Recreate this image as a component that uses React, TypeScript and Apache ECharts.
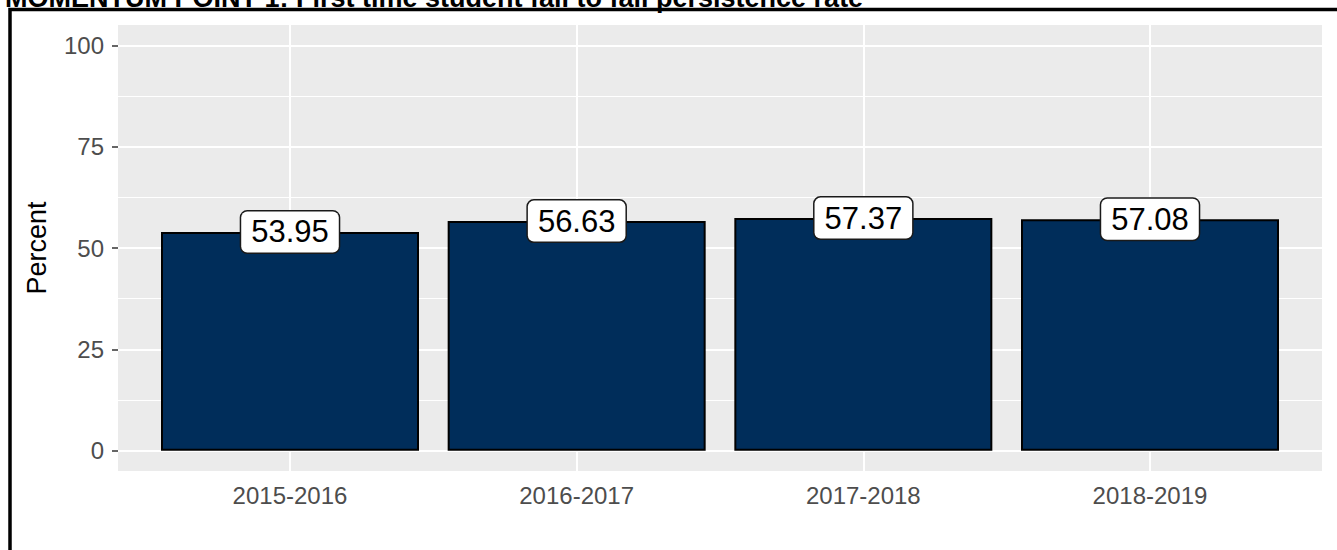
import React, { useEffect, useRef } from "react";
import * as echarts from "echarts";

const categories = ["2015-2016", "2016-2017", "2017-2018", "2018-2019"];
const values = [53.95, 56.63, 57.37, 57.08];
const yTicks = [0, 25, 50, 75, 100];
const yMinor = [12.5, 37.5, 62.5, 87.5];
const titleText = "MOMENTUM POINT 1: First time student fall to fall persistence rate";

const FONT = "'Liberation Sans', Arial, sans-serif";

export default function App() {
  const ref = useRef<HTMLDivElement>(null);
  useEffect(() => {
    if (!ref.current) return;
    const chart = echarts.init(ref.current, null, { renderer: "svg" });
    const xPos = categories.map((_, i) => i + 1);
    const barData = values.map((v, i) => [xPos[i], v]);
    const markData: any[] = [];
    yMinor.forEach((v) => markData.push({ yAxis: v, lineStyle: { width: 1 } }));
    yTicks.forEach((v) => markData.push({ yAxis: v, lineStyle: { width: 2 } }));
    xPos.forEach((v) => markData.push({ xAxis: v, lineStyle: { width: 2 } }));
    chart.setOption({
      animation: false,
      textStyle: { fontFamily: FONT },
      grid: {
        left: 118,
        right: 15,
        top: 25,
        bottom: 79,
        show: true,
        backgroundColor: "#EBEBEB",
        borderWidth: 0,
      },
      xAxis: {
        type: "value",
        min: 0.4,
        max: 4.6,
        splitLine: { show: false },
        axisLine: { show: false },
        axisTick: { show: true, length: 7, customValues: xPos, lineStyle: { color: "#333333", width: 1.5 } },
        axisLabel: {
          customValues: xPos,
          formatter: (v: number) => categories[Math.round(v) - 1] ?? "",
          color: "#4D4D4D",
          fontSize: 24,
          margin: 12,
          fontFamily: FONT,
        },
      },
      yAxis: {
        type: "value",
        min: -5,
        max: 105,
        name: "Percent",
        nameLocation: "middle",
        nameGap: 68,
        nameRotate: 90,
        nameTextStyle: { fontSize: 27, color: "#000000", fontFamily: FONT },
        splitLine: { show: false },
        axisLine: { show: false },
        axisTick: { show: true, length: 6, customValues: yTicks, lineStyle: { color: "#333333", width: 1.5 } },
        axisLabel: {
          customValues: yTicks,
          color: "#4D4D4D",
          fontSize: 24,
          margin: 14,
          fontFamily: FONT,
        },
      },
      series: [
        {
          type: "bar",
          data: barData,
          barWidth: "90%",
          z: 2,
          itemStyle: { color: "#002D5A", borderColor: "#000000", borderWidth: 2 },
          label: {
            show: true,
            position: "top",
            distance: -20.5,
            formatter: (p: any) => p.value[1].toFixed(2),
            fontSize: 31,
            lineHeight: 31,
            color: "#000000",
            fontFamily: FONT,
            backgroundColor: "#FFFFFF",
            borderColor: "#1A1A1A",
            borderWidth: 1.5,
            borderRadius: 6,
            padding: [5, 10],
          },
          markLine: {
            silent: true,
            z: 1,
            symbol: "none",
            label: { show: false },
            lineStyle: { color: "#FFFFFF", type: "solid" },
            data: markData,
          },
        },
      ],
      graphic: [
        {
          type: "text",
          left: 5,
          top: -16,
          style: {
            text: titleText,
            font: `bold 27px ${FONT}`,
            fill: "#000000",
          },
        },
        {
          type: "rect",
          shape: { x: 10, y: 9.5, width: 1400, height: 600 },
          style: { fill: "none", stroke: "#000000", lineWidth: 3.5 },
        },
      ],
    });
    return () => chart.dispose();
  }, []);
  return (
    <div
      ref={ref}
      style={{ position: "fixed", left: 0, top: 0, width: 1337, height: 550, background: "#FFFFFF" }}
    />
  );
}
